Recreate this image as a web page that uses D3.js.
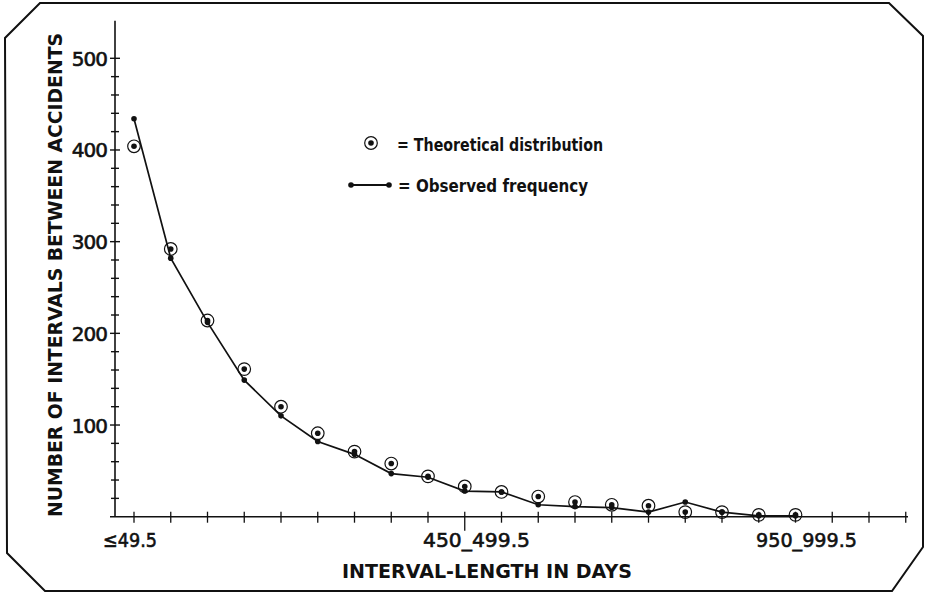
<!DOCTYPE html>
<html>
<head>
<meta charset="utf-8">
<script src="https://cdn.jsdelivr.net/npm/d3@7"></script>
<style>
  body { margin: 0; background: #fff; }
  svg { display: block; }
  text { font-family: "DejaVu Sans", sans-serif; fill: #111; }
  .num { stroke: #111; stroke-width: 0.6px; }
</style>
</head>
<body>
<div id="chart"></div>
<script>
// values, one per 50-day interval
const theoretical = [404, 292, 214, 161, 120, 91, 71, 58, 44, 33, 27, 22, 16, 13, 12, 5, 5, 2, 2];
const observed    = [434, 282, 212, 149, 110, 82, 68, 47, 43, 28, 27, 13, 11, 10, 5, 16, 5, 1, 1];

// x axis: 22 tick positions, only three of them labelled
const xTickCount = 22;
const xTickLabels = ["≤49.5", "450_499.5", "950_999.5"];
const xTickLabelAt = [0, 9, 18];

const yMajor = [100, 200, 300, 400, 500];
const yMinorStep = 20;

const width = 928, height = 594;

const svg = d3.select("#chart")
  .append("svg")
  .attr("width", width)
  .attr("height", height);

svg.append("rect").attr("width", width).attr("height", height).attr("fill", "#fff");

// frame with cut corners
svg.append("path")
  .attr("d", "M40,3 L889,3 L923,36 L923,547 L892,591 L45,591 L7,553 L5,38 Z")
  .attr("fill", "none")
  .attr("stroke", "#111")
  .attr("stroke-width", 2);

const x = d3.scaleLinear().domain([0, 21]).range([134, 905.75]);
const y = d3.scaleLinear().domain([0, 500]).range([516.7, 58.3]);

const axisX0 = 115;

// y axis line, runs a bit above 500
svg.append("line")
  .attr("x1", axisX0).attr("x2", axisX0)
  .attr("y1", y(0)).attr("y2", y(541))
  .attr("stroke", "#111").attr("stroke-width", 1.6);

// y ticks (cross ticks every 20)
const yTicks = d3.range(yMinorStep, 501, yMinorStep);
const gy = svg.append("g").attr("transform", "translate(" + axisX0 + ",0)");
gy.selectAll("line.tick")
  .data(yTicks)
  .enter()
  .append("line")
  .attr("x1", d => yMajor.includes(d) ? -5 : -4)
  .attr("x2", d => yMajor.includes(d) ? 5 : 4)
  .attr("y1", d => y(d)).attr("y2", d => y(d))
  .attr("stroke", "#111").attr("stroke-width", 1.4);

gy.selectAll("text")
  .data(yMajor)
  .enter()
  .append("text")
  .attr("class", "num")
  .attr("x", -8)
  .attr("y", d => y(d) + 7.5)
  .attr("text-anchor", "end")
  .style("font-size", "20px")
  .style("letter-spacing", "-1px")
  .text(d => d);

// x axis
const xAxisY = y(0);
svg.append("line")
  .attr("x1", 110).attr("x2", 908)
  .attr("y1", xAxisY).attr("y2", xAxisY)
  .attr("stroke", "#111").attr("stroke-width", 1.6);

svg.selectAll("line.xtick")
  .data(d3.range(xTickCount))
  .enter()
  .append("line")
  .attr("class", "xtick")
  .attr("x1", d => x(d)).attr("x2", d => x(d))
  .attr("y1", xAxisY - 5)
  .attr("y2", d => d === 9 ? xAxisY + 14 : xAxisY + 6)
  .attr("stroke", "#111").attr("stroke-width", 1.3);

// labelled x ticks
const xLabelBox = [[103, 157], [423, 530], [756, 857]];
svg.selectAll("text.xlab")
  .data(xTickLabels)
  .enter()
  .append("text")
  .attr("class", "xlab num")
  .attr("x", (d, i) => (xLabelBox[i][0] + xLabelBox[i][1]) / 2)
  .attr("y", 547)
  .attr("text-anchor", "middle")
  .attr("textLength", (d, i) => xLabelBox[i][1] - xLabelBox[i][0])
  .attr("lengthAdjust", "spacingAndGlyphs")
  .style("font-size", "20px")
  .text(d => d);

// axis titles
svg.append("text")
  .attr("transform", "translate(62,275) rotate(-90)")
  .attr("text-anchor", "middle")
  .attr("textLength", 484)
  .attr("lengthAdjust", "spacingAndGlyphs")
  .style("font-size", "20px")
  .style("font-weight", "bold")
  .text("NUMBER OF INTERVALS BETWEEN ACCIDENTS");

svg.append("text")
  .attr("x", 487)
  .attr("y", 578)
  .attr("text-anchor", "middle")
  .attr("textLength", 290)
  .attr("lengthAdjust", "spacingAndGlyphs")
  .style("font-size", "20px")
  .style("font-weight", "bold")
  .text("INTERVAL-LENGTH IN DAYS");

// observed frequency line
const line = d3.line()
  .x((d, i) => x(i))
  .y(d => y(d));

svg.append("path")
  .datum(observed)
  .attr("d", line)
  .attr("fill", "none")
  .attr("stroke", "#111")
  .attr("stroke-width", 1.7);

svg.selectAll("circle.obs")
  .data(observed)
  .enter()
  .append("circle")
  .attr("class", "obs")
  .attr("cx", (d, i) => x(i))
  .attr("cy", d => y(d))
  .attr("r", 2.8)
  .attr("fill", "#111");

// theoretical distribution: ring with a dot
const theo = svg.selectAll("g.theo")
  .data(theoretical)
  .enter()
  .append("g")
  .attr("class", "theo")
  .attr("transform", (d, i) => "translate(" + x(i) + "," + y(d) + ")");
theo.append("circle").attr("r", 6.3).attr("fill", "none").attr("stroke", "#111").attr("stroke-width", 1.2);
theo.append("circle").attr("r", 2.8).attr("fill", "#111");

// legend
const lg = svg.append("g");
lg.append("circle").attr("cx", 371).attr("cy", 143).attr("r", 6.3)
  .attr("fill", "none").attr("stroke", "#111").attr("stroke-width", 1.2);
lg.append("circle").attr("cx", 371).attr("cy", 143).attr("r", 2.8).attr("fill", "#111");
lg.append("text")
  .attr("x", 397).attr("y", 151)
  .attr("textLength", 206)
  .attr("lengthAdjust", "spacingAndGlyphs")
  .style("font-size", "18px")
  .style("font-weight", "bold")
  .text("= Theoretical distribution");

lg.append("line").attr("x1", 351).attr("x2", 389).attr("y1", 185).attr("y2", 185)
  .attr("stroke", "#111").attr("stroke-width", 1.8);
lg.selectAll("circle.ld")
  .data([351, 389])
  .enter()
  .append("circle")
  .attr("cx", d => d).attr("cy", 185).attr("r", 2.8).attr("fill", "#111");
lg.append("text")
  .attr("x", 398).attr("y", 192)
  .attr("textLength", 190)
  .attr("lengthAdjust", "spacingAndGlyphs")
  .style("font-size", "18px")
  .style("font-weight", "bold")
  .text("= Observed frequency");
</script>
</body>
</html>
